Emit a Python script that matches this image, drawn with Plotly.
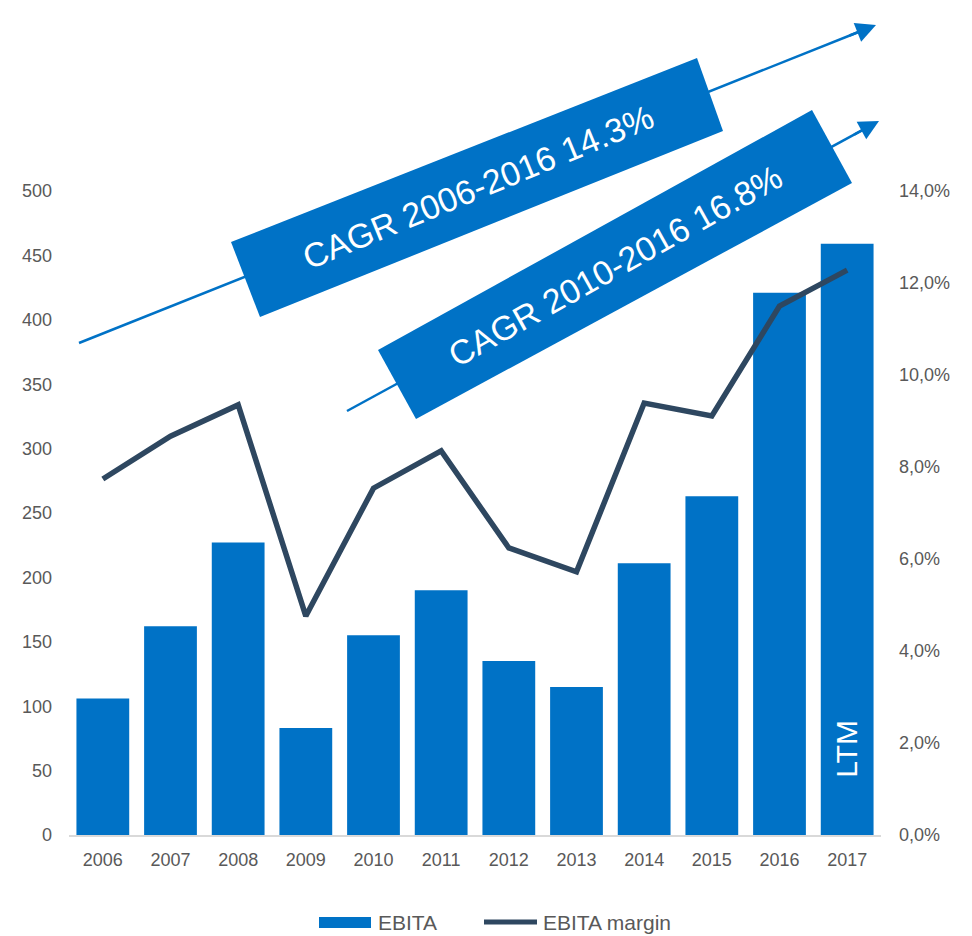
import plotly.graph_objects as go

# ---------------- data ----------------
years = ["2006", "2007", "2008", "2009", "2010", "2011",
         "2012", "2013", "2014", "2015", "2016", "2017"]
ebita = [106, 162, 227, 83, 155, 190, 135, 115, 211, 263, 421, 459]
ebita_margin = [0.0774, 0.0867, 0.0935, 0.0476, 0.0754, 0.0835,
                0.0624, 0.0572, 0.0939, 0.0911, 0.1150, 0.1228]
left_ticks = list(range(0, 501, 50))
cagr_labels = ["CAGR 2006-2016 14.3%", "CAGR 2010-2016 16.8%"]
ltm_label = "LTM"
legend_names = ["EBITA", "EBITA margin"]

# ---------------- style ----------------
BAR_C = "#0072C6"
LINE_C = "#2E4760"
TXT_C = "#595959"
FONT = "Liberation Sans"

W, H = 972, 936
ML, MR, MT, MB = 69, 91, 191, 101
PW, PH = W - ML - MR, H - MT - MB


def px(x):
    return (x - ML) / PW


def py(y):
    return (H - MB - y) / PH


fig = go.Figure()
fig.add_trace(go.Bar(
    x=years, y=ebita, name=legend_names[0], marker_color=BAR_C,
    marker_line_width=0, yaxis="y", showlegend=False,
))
fig.add_trace(go.Scatter(
    x=years, y=ebita_margin, name=legend_names[1], mode="lines",
    line=dict(color=LINE_C, width=5.5), yaxis="y2", showlegend=False,
))

shapes = []
annotations = []

# arrows (line part as shape, drawn below boxes)
arrows = [((79, 343), (876, 25)), ((347, 411), (879, 121))]
for (x0, y0), (x1, y1) in arrows:
    dx, dy = x1 - x0, y1 - y0
    n = (dx ** 2 + dy ** 2) ** 0.5
    ux, uy = dx / n, dy / n
    shapes.append(dict(type="line", xref="paper", yref="paper",
                       x0=px(x0), y0=py(y0), x1=px(x1 - 8 * ux), y1=py(y1 - 8 * uy),
                       line=dict(color=BAR_C, width=2.5), layer="above"))
    annotations.append(dict(xref="paper", yref="paper", x=px(x1), y=py(y1),
                            ax=-30 * ux, ay=-30 * uy, axref="pixel", ayref="pixel",
                            text="", showarrow=True, arrowhead=2, arrowsize=1.6,
                            arrowwidth=2.5, arrowcolor=BAR_C))

# rotated boxes
boxes = [
    [(231, 242), (697, 58), (723, 131), (260, 317)],
    [(378, 350), (812, 110), (852, 183), (416, 419)],
]
angles = [-22.5, -29.2]
for corners, ang, lab in zip(boxes, angles, cagr_labels):
    path = "M " + " L ".join(f"{px(x):.5f},{py(y):.5f}" for x, y in corners) + " Z"
    shapes.append(dict(type="path", xref="paper", yref="paper", path=path,
                       fillcolor=BAR_C, line=dict(width=0), layer="above"))
    cx = sum(c[0] for c in corners) / 4
    cy = sum(c[1] for c in corners) / 4
    annotations.append(dict(xref="paper", yref="paper", x=px(cx), y=py(cy),
                            xanchor="center", yanchor="middle",
                            text=lab, showarrow=False, textangle=ang,
                            font=dict(family=FONT, size=34, color="white")))

# LTM label inside last bar (category index of the last year)
annotations.append(dict(x=len(years) - 1, y=67, xref="x", yref="y", text=ltm_label,
                        xanchor="center", yanchor="middle",
                        showarrow=False, textangle=-90,
                        font=dict(family=FONT, size=30, color="white")))

# custom legend
shapes.append(dict(type="rect", xref="paper", yref="paper",
                   x0=px(319), x1=px(371), y0=py(928), y1=py(917),
                   fillcolor=BAR_C, line=dict(width=0)))
shapes.append(dict(type="line", xref="paper", yref="paper",
                   x0=px(484), x1=px(537), y0=py(922), y1=py(922),
                   line=dict(color=LINE_C, width=5)))
annotations.append(dict(xref="paper", yref="paper", x=px(376), y=py(922),
                        xanchor="left", yanchor="middle", text=legend_names[0],
                        showarrow=False, font=dict(family=FONT, size=21, color=TXT_C)))
annotations.append(dict(xref="paper", yref="paper", x=px(541), y=py(922),
                        xanchor="left", yanchor="middle", text=legend_names[1],
                        showarrow=False, font=dict(family=FONT, size=21, color=TXT_C)))

fig.update_layout(
    width=W, height=H,
    margin=dict(l=ML, r=MR, t=MT, b=MB, autoexpand=False),
    plot_bgcolor="white", paper_bgcolor="white",
    separators=", ",
    bargap=0.22,
    showlegend=False,
    font=dict(family=FONT, size=18, color=TXT_C),
    xaxis=dict(type="category", range=[-0.5, len(years) - 0.5], autorange=False,
               showgrid=False, showline=True, linecolor="#D9D9D9",
               linewidth=1.5, ticks="", ticklabelstandoff=8, zeroline=False,
               tickfont=dict(size=18, color=TXT_C)),
    yaxis=dict(range=[0, 500], tickvals=left_ticks, showgrid=False, zeroline=False,
               showline=False, ticks="", ticklabelstandoff=16,
               tickfont=dict(size=18, color=TXT_C)),
    yaxis2=dict(range=[0, 0.14], dtick=0.02, tickformat=".1%", overlaying="y",
                side="right", showgrid=False, zeroline=False, showline=False,
                ticks="", ticklabelstandoff=17, tickfont=dict(size=18, color=TXT_C)),
    shapes=shapes,
    annotations=annotations,
)

fig.write_html("out.html", config={"displayModeBar": False},
               post_script="document.body.style.margin='0';")
